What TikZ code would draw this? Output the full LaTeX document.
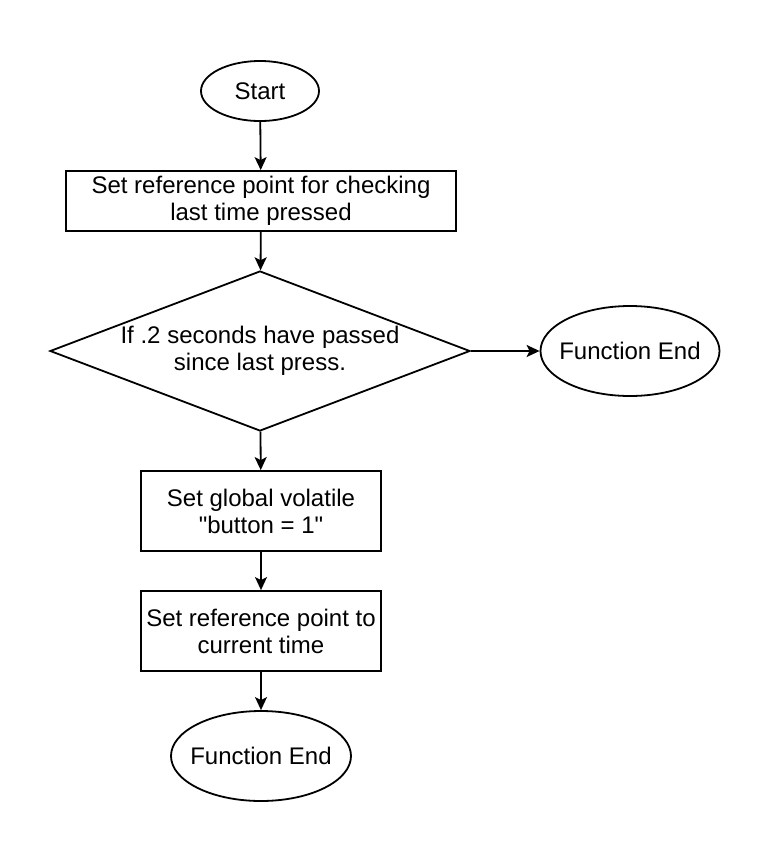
\documentclass[tikz,border=0pt]{standalone}
\usepackage{fontspec}
\setmainfont{Liberation Sans}[Ligatures=TeXOff]
\usetikzlibrary{shapes.geometric,arrows.meta}

\begin{document}
\begin{tikzpicture}[x=1pt,y=-1pt,line width=1.8pt,
  every node/.style={inner sep=0pt,align=center,font=\fontsize{24}{27}\selectfont},
  terminal/.style={draw,ellipse,inner xsep=-9pt},
  process/.style={draw,rectangle},
  decision/.style={draw,diamond,aspect=2.625,minimum width=420pt,minimum height=160pt},
  flow/.style={-{Stealth[length=13pt,width=12pt,inset=3pt]}}]
\useasboundingbox (0,0) rectangle (772,852);
% nodes
\node [terminal,minimum width=118pt,minimum height=60pt] (start) at (260,91) {Start};
\node [process,minimum width=390pt,minimum height=60pt] (setref) at (261,201)
  {Set reference point for checking\\last time pressed};
\node [decision] (check) at (260,351) {If .2 seconds have passed\\since last press.};
\node [terminal,minimum width=179pt,minimum height=90pt] (endA) at (630,351) {Function End};
\node [process,minimum width=240pt,minimum height=80pt] (setbtn) at (261,511)
  {Set global volatile\\"button = 1"};
\node [process,minimum width=240pt,minimum height=80pt] (settime) at (261,631)
  {Set reference point to\\current time};
\node [terminal,minimum width=180pt,minimum height=90pt] (endB) at (261,756) {Function End};
% connectors
\draw [flow] (start) -- (setref);
\draw [flow] (setref) -- (check);
\draw [flow] (check) -- (endA);
\draw [flow] (check) -- (setbtn);
\draw [flow] (setbtn) -- (settime);
\draw [flow] (settime) -- (endB);
\end{tikzpicture}
\end{document}
